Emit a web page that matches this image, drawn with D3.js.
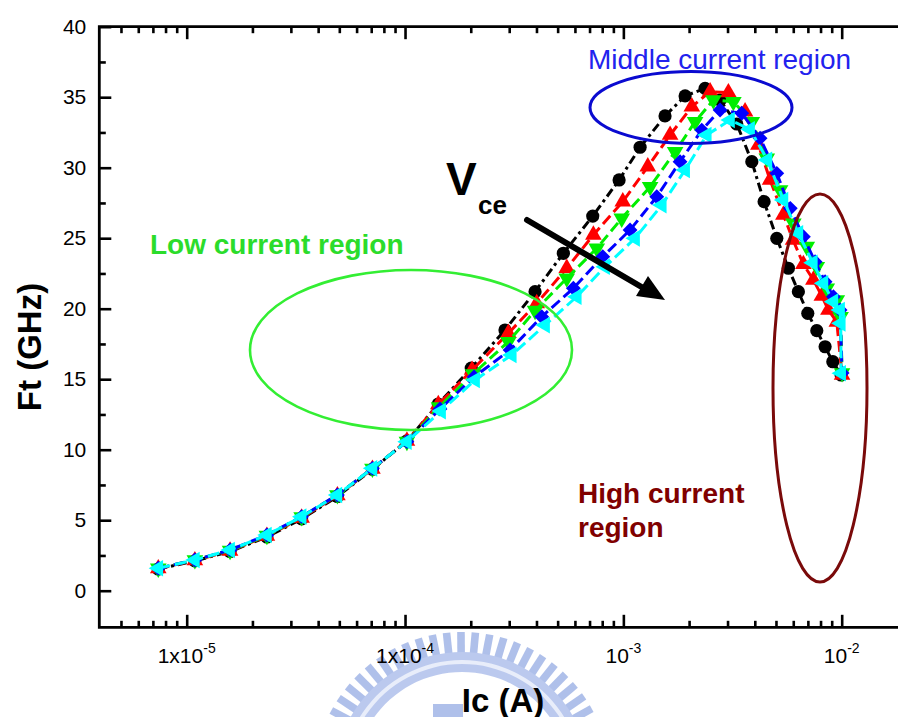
<!DOCTYPE html>
<html>
<head>
<meta charset="utf-8">
<script src="https://cdn.jsdelivr.net/npm/d3@7"></script>
<style>
  body { margin: 0; background: #fff; }
  text { font-family: "Liberation Sans", Arial, sans-serif; }
</style>
</head>
<body>
<svg id="chart" width="898" height="717"></svg>
<script>
// Ic (A) and Ft (GHz), one pair of arrays per Vce curve
var icBlack = [7.41e-6, 1.09e-5, 1.58e-5, 2.33e-5, 3.36e-5, 4.90e-5, 7.09e-5, 1.02e-4, 1.42e-4, 2.01e-4,
  2.87e-4, 3.94e-4, 5.31e-4, 7.24e-4, 9.56e-4, 1.193e-3, 1.552e-3, 1.918e-3, 2.367e-3, 2.773e-3,
  3.308e-3, 3.875e-3, 4.411e-3, 5.044e-3, 5.700e-3, 6.332e-3, 6.993e-3, 7.690e-3, 8.394e-3, 9.104e-3, 9.94e-3];
var ftBlack = [1.54, 2.11, 2.78, 3.81, 5.09, 6.68, 8.60, 10.62, 13.24, 15.79,
  18.49, 21.21, 23.93, 26.57, 29.13, 31.45, 33.67, 35.09, 35.63, 34.80,
  33.10, 30.43, 27.59, 24.99, 22.87, 21.21, 19.67, 18.44, 17.30, 16.24, 15.30];

var icRed = [7.41e-6, 1.09e-5, 1.58e-5, 2.33e-5, 3.36e-5, 4.90e-5, 7.09e-5, 1.02e-4, 1.42e-4, 2.028e-4,
  2.973e-4, 4.011e-4, 5.505e-4, 7.288e-4, 9.94e-4, 1.294e-3, 1.637e-3, 2.058e-3, 2.496e-3, 3.027e-3,
  3.609e-3, 4.153e-3, 4.699e-3, 5.408e-3, 5.988e-3, 6.676e-3, 7.420e-3, 8.109e-3, 8.694e-3, 9.497e-3, 1.004e-2];
var ftRed = [1.57, 2.14, 2.82, 3.88, 5.16, 6.75, 8.63, 10.62, 13.21, 15.65,
  18.26, 20.38, 22.87, 25.23, 27.59, 30.07, 32.32, 34.33, 35.39, 35.33,
  33.97, 31.61, 29.13, 26.65, 24.87, 23.15, 22.04, 20.90, 19.91, 19.06, 15.30];

var icGreen = [7.41e-6, 1.09e-5, 1.58e-5, 2.33e-5, 3.36e-5, 4.90e-5, 7.09e-5, 1.02e-4, 1.432e-4, 2.049e-4,
  2.973e-4, 3.94e-4, 5.505e-4, 7.554e-4, 9.83e-4, 1.326e-3, 1.726e-3, 2.131e-3, 2.584e-3, 3.190e-3,
  3.875e-3, 4.539e-3, 5.222e-3, 6.007e-3, 6.920e-3, 7.690e-3, 8.547e-3, 9.497e-3, 9.885e-3, 1.004e-2];
var ftGreen = [1.59, 2.18, 2.85, 3.91, 5.23, 6.79, 8.67, 10.58, 13.03, 15.37,
  17.66, 19.86, 22.16, 24.28, 26.41, 28.65, 31.13, 33.26, 34.80, 34.68,
  33.26, 30.67, 28.42, 26.06, 24.40, 22.98, 21.45, 20.62, 19.43, 15.44];

var icBlue = [7.41e-6, 1.09e-5, 1.58e-5, 2.33e-5, 3.36e-5, 4.90e-5, 7.09e-5, 1.02e-4, 1.446e-4, 2.071e-4,
  3.027e-4, 4.228e-4, 5.902e-4, 8.047e-4, 1.073e-3, 1.422e-3, 1.818e-3, 2.286e-3, 2.773e-3, 3.486e-3,
  4.229e-3, 5.044e-3, 5.815e-3, 6.676e-3, 7.553e-3, 8.394e-3, 9.162e-3, 9.83e-3, 1.004e-2];
var ftBlue = [1.59, 2.18, 2.89, 3.95, 5.25, 6.79, 8.68, 10.57, 12.89, 15.16,
  17.07, 19.43, 21.45, 23.69, 25.58, 27.94, 30.43, 32.67, 34.09, 33.86,
  32.09, 29.60, 27.12, 25.11, 23.33, 21.91, 20.85, 19.91, 15.44];

var icCyan = [7.41e-6, 1.09e-5, 1.58e-5, 2.33e-5, 3.36e-5, 4.90e-5, 7.09e-5, 1.02e-4, 1.462e-4, 2.093e-4,
  3.082e-4, 4.378e-4, 6.116e-4, 8.245e-4, 1.131e-3, 1.499e-3, 1.918e-3, 2.410e-3, 3.080e-3, 3.804e-3,
  4.567e-3, 5.408e-3, 6.332e-3, 7.372e-3, 8.246e-3, 9.162e-3, 9.83e-3, 9.90e-3, 9.94e-3];
var ftCyan = [1.59, 2.18, 2.89, 3.95, 5.25, 6.79, 8.68, 10.57, 12.74, 14.94,
  16.72, 18.84, 20.85, 22.98, 24.99, 27.35, 29.84, 32.32, 33.38, 32.72,
  30.55, 27.71, 25.35, 23.26, 21.80, 20.50, 19.91, 18.96, 15.42];

var xMajorTicks = [1e-5, 1e-4, 1e-3, 1e-2];
var xMajorLabels = [['1x10', '-5'], ['1x10', '-4'], ['10', '-3'], ['10', '-2']];
var yMajorTicks = [0, 5, 10, 15, 20, 25, 30, 35, 40];
var yMinorTicks = [2.5, 7.5, 12.5, 17.5, 22.5, 27.5, 32.5, 37.5];

var svg = d3.select('#chart');
svg.append('rect').attr('width', 898).attr('height', 717).attr('fill', '#fff');

var frameLeft = 99.3, frameBottom = 627.3, frameTop = 26.7, frameRight = 898;

var x = d3.scaleLog().domain([1e-5, 1e-2]).range([186.7, 841.7]);
var y = d3.scaleLinear().domain([0, 40]).range([590.7, 26.7]);

// faint university logo watermark behind the x title
var wm = svg.append('g').attr('opacity', 0.7);
var cx = 462, cy = 780;
d3.range(-152, -24, 5.6).forEach(function (a) {
  wm.append('rect')
      .attr('x', -3.8).attr('y', -148).attr('width', 7.6).attr('height', 22)
      .attr('fill', '#8ea6e2')
      .attr('transform', 'translate(' + cx + ',' + cy + ') rotate(' + (a + 90) + ')');
});
wm.append('path')
    .attr('d', d3.arc().innerRadius(108).outerRadius(128).startAngle(-Math.PI * 0.62).endAngle(Math.PI * 0.62)())
    .attr('transform', 'translate(' + cx + ',' + cy + ')')
    .attr('fill', '#9fb3e8');
wm.append('path')
    .attr('d', d3.arc().innerRadius(116).outerRadius(120).startAngle(-Math.PI * 0.62).endAngle(Math.PI * 0.62)())
    .attr('transform', 'translate(' + cx + ',' + cy + ')')
    .attr('fill', '#dfe6f8');
wm.append('rect').attr('x', 433).attr('y', 704).attr('width', 30).attr('height', 13).attr('fill', '#8ea6e2');

// minor log ticks that fall inside the frame
var xMinorTicks = [];
[-6, -5, -4, -3, -2].forEach(function (e) {
  d3.range(2, 10).forEach(function (m) {
    var v = m * Math.pow(10, e);
    if (x(v) > frameLeft + 2 && x(v) < frameRight) xMinorTicks.push(v);
  });
});

function cleanAxis(g) {
  g.select('.domain').remove();
  g.selectAll('line').attr('stroke', '#000').attr('stroke-width', 2.6);
}

svg.append('g')
    .attr('transform', 'translate(0,' + frameBottom + ')')
    .call(d3.axisBottom(x).tickValues(xMinorTicks).tickSize(-6.5).tickFormat(''))
    .call(cleanAxis);
svg.append('g')
    .attr('transform', 'translate(0,' + frameBottom + ')')
    .call(d3.axisBottom(x).tickValues(xMajorTicks).tickSize(-12.5).tickFormat(''))
    .call(cleanAxis);
svg.append('g')
    .attr('transform', 'translate(0,' + frameTop + ')')
    .call(d3.axisTop(x).tickValues(xMinorTicks).tickSize(-6.5).tickFormat(''))
    .call(cleanAxis);
svg.append('g')
    .attr('transform', 'translate(0,' + frameTop + ')')
    .call(d3.axisTop(x).tickValues(xMajorTicks).tickSize(-12.5).tickFormat(''))
    .call(cleanAxis);

svg.append('g')
    .attr('transform', 'translate(' + frameLeft + ',0)')
    .call(d3.axisLeft(y).tickValues(yMinorTicks).tickSize(-6.5).tickFormat(''))
    .call(cleanAxis);
svg.append('g')
    .attr('transform', 'translate(' + frameLeft + ',0)')
    .call(d3.axisLeft(y).tickValues(yMajorTicks).tickSize(-12).tickPadding(13).tickFormat(d3.format('d')))
    .call(cleanAxis)
    .selectAll('text')
        .attr('font-size', 21)
        .attr('fill', '#000')
        .style('font-family', '"Liberation Sans", Arial, sans-serif');

// frame lines: top, left, bottom
svg.append('path')
    .attr('d', 'M' + frameRight + ',' + frameTop + 'H' + frameLeft + 'V' + frameBottom + 'H' + frameRight)
    .attr('fill', 'none')
    .attr('stroke', '#000')
    .attr('stroke-width', 2.8);

// x tick labels with superscript exponents
var xl = svg.append('g').selectAll('text')
    .data(xMajorTicks)
    .enter().append('text')
        .attr('x', function (d) { return x(d); })
        .attr('y', 663)
        .attr('text-anchor', 'middle')
        .attr('font-size', 21);
xl.append('tspan').text(function (d, i) { return xMajorLabels[i][0]; });
xl.append('tspan')
    .attr('dy', -10)
    .attr('font-size', 14)
    .text(function (d, i) { return xMajorLabels[i][1]; });

// axis titles
svg.append('text')
    .text('Ic (A)')
    .attr('x', 503)
    .attr('y', 712)
    .attr('text-anchor', 'middle')
    .attr('font-size', 33)
    .attr('font-weight', 'bold');
svg.append('text')
    .text('Ft (GHz)')
    .attr('transform', 'translate(41,347) rotate(-90)')
    .attr('text-anchor', 'middle')
    .attr('font-size', 33)
    .attr('font-weight', 'bold');

// curves
var series = [
  { ic: icBlack, ft: ftBlack, color: '#000000', dash: '9,4,3,4', shape: 'circle' },
  { ic: icRed, ft: ftRed, color: '#ff0000', dash: '11,5', shape: 'up' },
  { ic: icGreen, ft: ftGreen, color: '#00ee00', dash: '11,5', shape: 'down' },
  { ic: icBlue, ft: ftBlue, color: '#0000ff', dash: '11,5', shape: 'diamond' },
  { ic: icCyan, ft: ftCyan, color: '#00ffff', dash: '12,5', shape: 'left' }
];

var line = d3.line()
    .x(function (d) { return x(d[0]); })
    .y(function (d) { return y(d[1]); });

var triangle = d3.symbol().type(d3.symbolTriangle).size(120)();
var diamond = d3.symbol().type(d3.symbolSquare).size(110)();
var rotation = { up: 0, down: 180, left: -90, diamond: 45 };

series.forEach(function (s) {
  var pts = d3.zip(s.ic, s.ft);
  svg.append('path')
      .datum(pts)
      .attr('d', line)
      .attr('fill', 'none')
      .attr('stroke', s.color)
      .attr('stroke-width', 3)
      .attr('stroke-dasharray', s.dash);

  var marks = svg.append('g').selectAll('.m')
      .data(pts)
      .enter();
  if (s.shape === 'circle') {
    marks.append('circle')
        .attr('cx', function (d) { return x(d[0]); })
        .attr('cy', function (d) { return y(d[1]); })
        .attr('r', 6.6)
        .attr('fill', s.color);
  } else {
    marks.append('path')
        .attr('d', s.shape === 'diamond' ? diamond : triangle)
        .attr('transform', function (d) {
          return 'translate(' + x(d[0]) + ',' + y(d[1]) + ') rotate(' + rotation[s.shape] + ')';
        })
        .attr('fill', s.color);
  }
});

// region annotations
svg.append('ellipse')
    .attr('cx', 411).attr('cy', 350).attr('rx', 161).attr('ry', 80)
    .attr('fill', 'none').attr('stroke', '#33ee33').attr('stroke-width', 2.6);
svg.append('ellipse')
    .attr('cx', 691).attr('cy', 107.5).attr('rx', 101).attr('ry', 36)
    .attr('fill', 'none').attr('stroke', '#0a0ad0').attr('stroke-width', 3);
svg.append('ellipse')
    .attr('cx', 820).attr('cy', 388).attr('rx', 47).attr('ry', 194)
    .attr('fill', 'none').attr('stroke', '#7a0a0a').attr('stroke-width', 3);

svg.append('text')
    .text('Low current region')
    .attr('x', 150).attr('y', 254)
    .attr('font-size', 28).attr('font-weight', 'bold')
    .attr('fill', '#2bdc2b');
svg.append('text')
    .text('Middle current region')
    .attr('x', 588).attr('y', 69)
    .attr('font-size', 28)
    .attr('fill', '#2222ee');
svg.append('text')
    .text('High current')
    .attr('x', 578).attr('y', 503)
    .attr('font-size', 28).attr('font-weight', 'bold')
    .attr('fill', '#800000');
svg.append('text')
    .text('region')
    .attr('x', 578).attr('y', 537)
    .attr('font-size', 28).attr('font-weight', 'bold')
    .attr('fill', '#800000');

// Vce arrow
svg.append('text')
    .text('V')
    .attr('x', 446).attr('y', 195)
    .attr('font-size', 46).attr('font-weight', 'bold');
svg.append('text')
    .text('ce')
    .attr('x', 478).attr('y', 214)
    .attr('font-size', 26).attr('font-weight', 'bold');
svg.append('line')
    .attr('x1', 527).attr('y1', 220).attr('x2', 645).attr('y2', 289)
    .attr('stroke', '#000').attr('stroke-width', 6).attr('stroke-linecap', 'round');
svg.append('path')
    .attr('d', 'M665,300L636,296L648,276Z')
    .attr('fill', '#000');
</script>
</body>
</html>
